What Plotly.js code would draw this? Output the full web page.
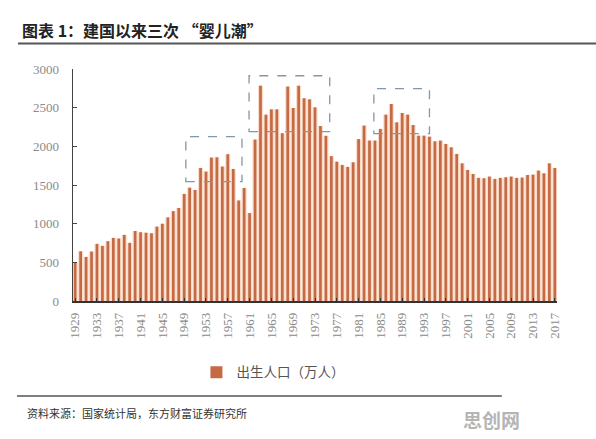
<!DOCTYPE html>
<html>
<head>
<meta charset="utf-8">
<script src="https://cdn.plot.ly/plotly-3.0.1.min.js"></script>
<style>html,body{margin:0;padding:0;background:#fff;}#chart{width:596px;height:439px;}</style>
</head>
<body>
<div id="chart"></div>
<script>
const years = [1929,1930,1931,1932,1933,1934,1935,1936,1937,1938,1939,1940,1941,1942,1943,1944,1945,1946,1947,1948,
  1949,1950,1951,1952,1953,1954,1955,1956,1957,1958,1959,1960,1961,1962,1963,1964,1965,1966,1967,1968,
  1969,1970,1971,1972,1973,1974,1975,1976,1977,1978,1979,1980,1981,1982,1983,1984,1985,1986,1987,1988,
  1989,1990,1991,1992,1993,1994,1995,1996,1997,1998,1999,2000,2001,2002,2003,2004,2005,2006,2007,2008,
  2009,2010,2011,2012,2013,2014,2015,2016,2017];
const births = [500,643,570,640,739,713,773,816,808,855,752,905,889,883,876,962,999,1081,1162,1202,
  1385,1466,1436,1721,1673,1854,1858,1738,1898,1708,1300,1462,1137,2087,2784,2410,2478,2478,2170,2773,
  2496,2784,2622,2608,2504,2263,2136,1873,1802,1760,1734,1793,2093,2268,2074,2074,2225,2410,2548,2310,
  2431,2410,2276,2138,2138,2125,2065,2074,2031,1987,1902,1780,1695,1643,1592,1587,1609,1579,1592,1600,
  1609,1592,1596,1630,1634,1686,1651,1780,1721];
const tickYears = ['1929','1933','1937','1941','1945','1949','1953','1957','1961','1965','1969','1973','1977',
  '1981','1985','1989','1993','1997','2001','2005','2009','2013','2017'];
const seriesName = '出生人口（万人）';
const titleText = '图表 1：建国以来三次 “婴儿潮”';
const sourceText = '资料来源：国家统计局，东方财富证券研究所';
const watermark = '思创网';
// baby boom highlight boxes: [startYear, endYear, low, high]
const boomBoxes = [[1949.3, 1959.6, 1544, 2125], [1960.9, 1975.7, 2190, 2913], [1983.8, 1994.0, 2164, 2745]];

const traces = [
  {type:'bar', x:years, y:births, width:0.95, marker:{color:'#f9dccb'}, showlegend:false, hoverinfo:'skip'},
  {type:'bar', x:years, y:births, width:0.5, name:seriesName, marker:{color:'#c66a44'}}
];

const shapes = boomBoxes.map(b => ({type:'rect', xref:'x', yref:'y', x0:b[0], x1:b[1], y0:b[2], y1:b[3],
  line:{color:'#8496ab', width:1.3, dash:'dash'}, fillcolor:'rgba(0,0,0,0)'}));
shapes.push({type:'line', xref:'paper', yref:'paper', x0:-0.1136, x1:1.081, y0:1.110, y1:1.110, line:{color:'#555', width:2}});
shapes.push({type:'line', xref:'paper', yref:'paper', x0:-0.1157, x1:0.886, y0:-0.410, y1:-0.410, line:{color:'#555', width:1.5}});

const layout = {
  width:596, height:439,
  margin:{l:73, r:39, t:69, b:138},
  paper_bgcolor:'#fff', plot_bgcolor:'#fff',
  barmode:'overlay',
  font:{family:'"Noto Sans CJK SC", sans-serif', color:'#444'},
  title:{text:titleText, xref:'container', yref:'container', x:22/596, xanchor:'left', y:1-31/439, yanchor:'middle',
    font:{family:'"Noto Sans CJK SC", sans-serif', size:16, color:'#222', weight:'bold'}},
  xaxis:{type:'linear', range:[1928.6, 2017.4], tickmode:'array', tickvals:tickYears.map(Number), ticktext:tickYears,
    tickangle:-90, ticks:'inside', ticklen:3, tickcolor:'#333', showline:true, linecolor:'#333', linewidth:1.5,
    showgrid:false, zeroline:false, ticklabelstandoff:5, tickfont:{family:'"Liberation Serif", serif', size:13, color:'#8a8a8a'}},
  yaxis:{range:[0,3000], dtick:500, ticks:'inside', ticklen:4, tickcolor:'#444', showline:true, linecolor:'#444', linewidth:1.5,
    showgrid:false, zeroline:false, ticklabelstandoff:10, tickfont:{family:'"Liberation Serif", serif', size:13, color:'#8a8a8a'}},
  legend:{orientation:'h', x:0.255, xanchor:'left', y:-0.308, yanchor:'middle', font:{size:13.5, color:'#555'}, itemwidth:30},
  shapes:shapes,
  annotations:[
    {text:sourceText, xref:'paper', yref:'paper', x:-0.0992, y:-0.481, xanchor:'left', yanchor:'middle', showarrow:false,
      font:{size:11, color:'#333'}},
    {text:watermark, xref:'paper', yref:'paper', x:0.864, y:-0.511, xanchor:'center', yanchor:'middle', showarrow:false,
      font:{size:19, color:'#b5b5b5', weight:'bold'}}
  ]
};
Plotly.newPlot('chart', traces, layout, {displayModeBar:false, staticPlot:true});
</script>
</body>
</html>
